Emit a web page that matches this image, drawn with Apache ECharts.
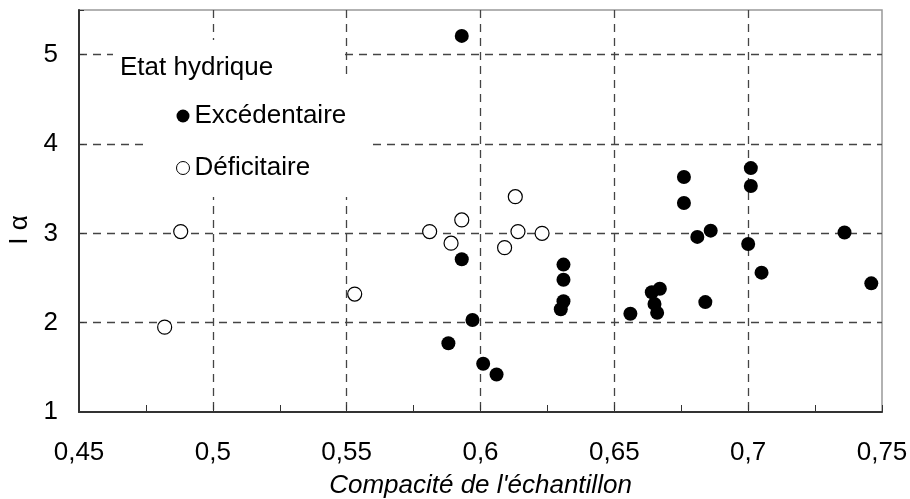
<!DOCTYPE html>
<html>
<head>
<meta charset="utf-8">
<script src="https://cdn.jsdelivr.net/npm/echarts@6/dist/echarts.min.js"></script>
<style>
  html, body { margin: 0; padding: 0; background: #fff; }
  #chart { width: 910px; height: 499px; }
</style>
</head>
<body>
<div id="chart"></div>
<script>
// valeurs
const excX = [0.593, 0.593, 0.597, 0.588, 0.601, 0.606, 0.631, 0.631, 0.631, 0.630,
  0.676, 0.676, 0.681, 0.686, 0.701, 0.701, 0.700, 0.705, 0.736, 0.746,
  0.684, 0.656, 0.664, 0.667, 0.665, 0.666];
const excY = [5.21, 2.71, 2.03, 1.77, 1.54, 1.42, 2.65, 2.48, 2.24, 2.15,
  3.63, 3.34, 2.96, 3.03, 3.73, 3.53, 2.88, 2.56, 3.01, 2.44,
  2.23, 2.10, 2.34, 2.38, 2.21, 2.11];
const defX = [0.488, 0.482, 0.553, 0.581, 0.589, 0.593, 0.613, 0.614, 0.609, 0.623];
const defY = [3.02, 1.95, 2.32, 3.02, 2.89, 3.15, 3.41, 3.02, 2.84, 3.00];

const legendNames = ['Excédentaire', 'Déficitaire'];
const xTitle = "Compacité de l'échantillon";
const yTitle = 'I α';

const font = 'Liberation Sans, Arial, sans-serif';
const zip = (a, b) => a.map((v, i) => [v, b[i]]);
const comma = v => String(+v.toFixed(3)).replace('.', ',');

const chart = echarts.init(document.getElementById('chart'));
chart.setOption({
  animation: false,
  backgroundColor: '#fff',
  textStyle: { fontFamily: font },
  grid: {
    left: 79, right: 28, top: 10, bottom: 87,
    outerBoundsMode: 'none',
    show: true, borderColor: '#999', borderWidth: 1.5
  },
  title: {
    text: 'Etat hydrique',
    left: 113, top: 40,
    padding: [15, 68, 20, 7],
    backgroundColor: '#fff',
    textStyle: { fontFamily: font, fontSize: 26, fontWeight: 'normal', color: '#000' }
  },
  legend: {
    left: 146, top: 80,
    orient: 'vertical',
    padding: [23, 25, 16, 30],
    backgroundColor: '#fff',
    itemWidth: 13, itemHeight: 13,
    itemGap: 26, itemTextGap: 9,
    textStyle: { fontFamily: font, fontSize: 26, color: '#000' },
    data: [
      { name: legendNames[0], icon: 'circle', itemStyle: { color: '#000', borderWidth: 0 } },
      { name: legendNames[1], icon: 'circle', itemStyle: { color: '#fff', borderColor: '#000', borderWidth: 1 } }
    ]
  },
  xAxis: {
    type: 'value', min: 0.45, max: 0.75, interval: 0.05,
    name: xTitle, nameLocation: 'middle', nameGap: 61,
    nameTextStyle: { fontFamily: font, fontSize: 26, fontStyle: 'italic', color: '#000' },
    axisLine: { lineStyle: { color: '#333', width: 2 } },
    axisTick: { show: true, inside: true, length: 7, lineStyle: { color: '#333' } },
    minorTick: { show: true, splitNumber: 2, length: 7, lineStyle: { color: '#333' } },
    axisLabel: { margin: 28, fontSize: 26, color: '#000', fontFamily: font, formatter: comma },
    splitLine: {
      show: true,
      lineStyle: {
        type: [8, 6], width: 1.3,
        color: ['rgba(0,0,0,0)', '#444', '#444', '#444', '#444', '#444', 'rgba(0,0,0,0)']
      }
    }
  },
  yAxis: {
    type: 'value', min: 1, max: 5.5, interval: 1,
    name: yTitle, nameLocation: 'middle', nameGap: 42, nameRotate: 90,
    nameTextStyle: { fontFamily: font, fontSize: 26, color: '#000', padding: [0, 38, 0, 0] },
    axisLine: { show: true, lineStyle: { color: '#333', width: 2 } },
    axisTick: { show: true, inside: true, length: 5, lineStyle: { color: '#333' } },
    axisLabel: {
      margin: 21, fontSize: 26, color: '#000', fontFamily: font,
      formatter: v => (v > 5 ? '' : comma(v))
    },
    splitLine: {
      show: true,
      lineStyle: {
        type: [8, 6], width: 1.3,
        color: ['rgba(0,0,0,0)', '#444', '#444', '#444', '#444', 'rgba(0,0,0,0)']
      }
    }
  },
  series: [
    {
      name: legendNames[0], type: 'scatter', symbol: 'circle', symbolSize: 14,
      itemStyle: { color: '#000', opacity: 1 },
      data: zip(excX, excY)
    },
    {
      name: legendNames[1], type: 'scatter', symbol: 'circle', symbolSize: 14,
      itemStyle: { color: '#fff', borderColor: '#000', borderWidth: 1.2, opacity: 1 },
      data: zip(defX, defY)
    }
  ]
});
</script>
</body>
</html>
